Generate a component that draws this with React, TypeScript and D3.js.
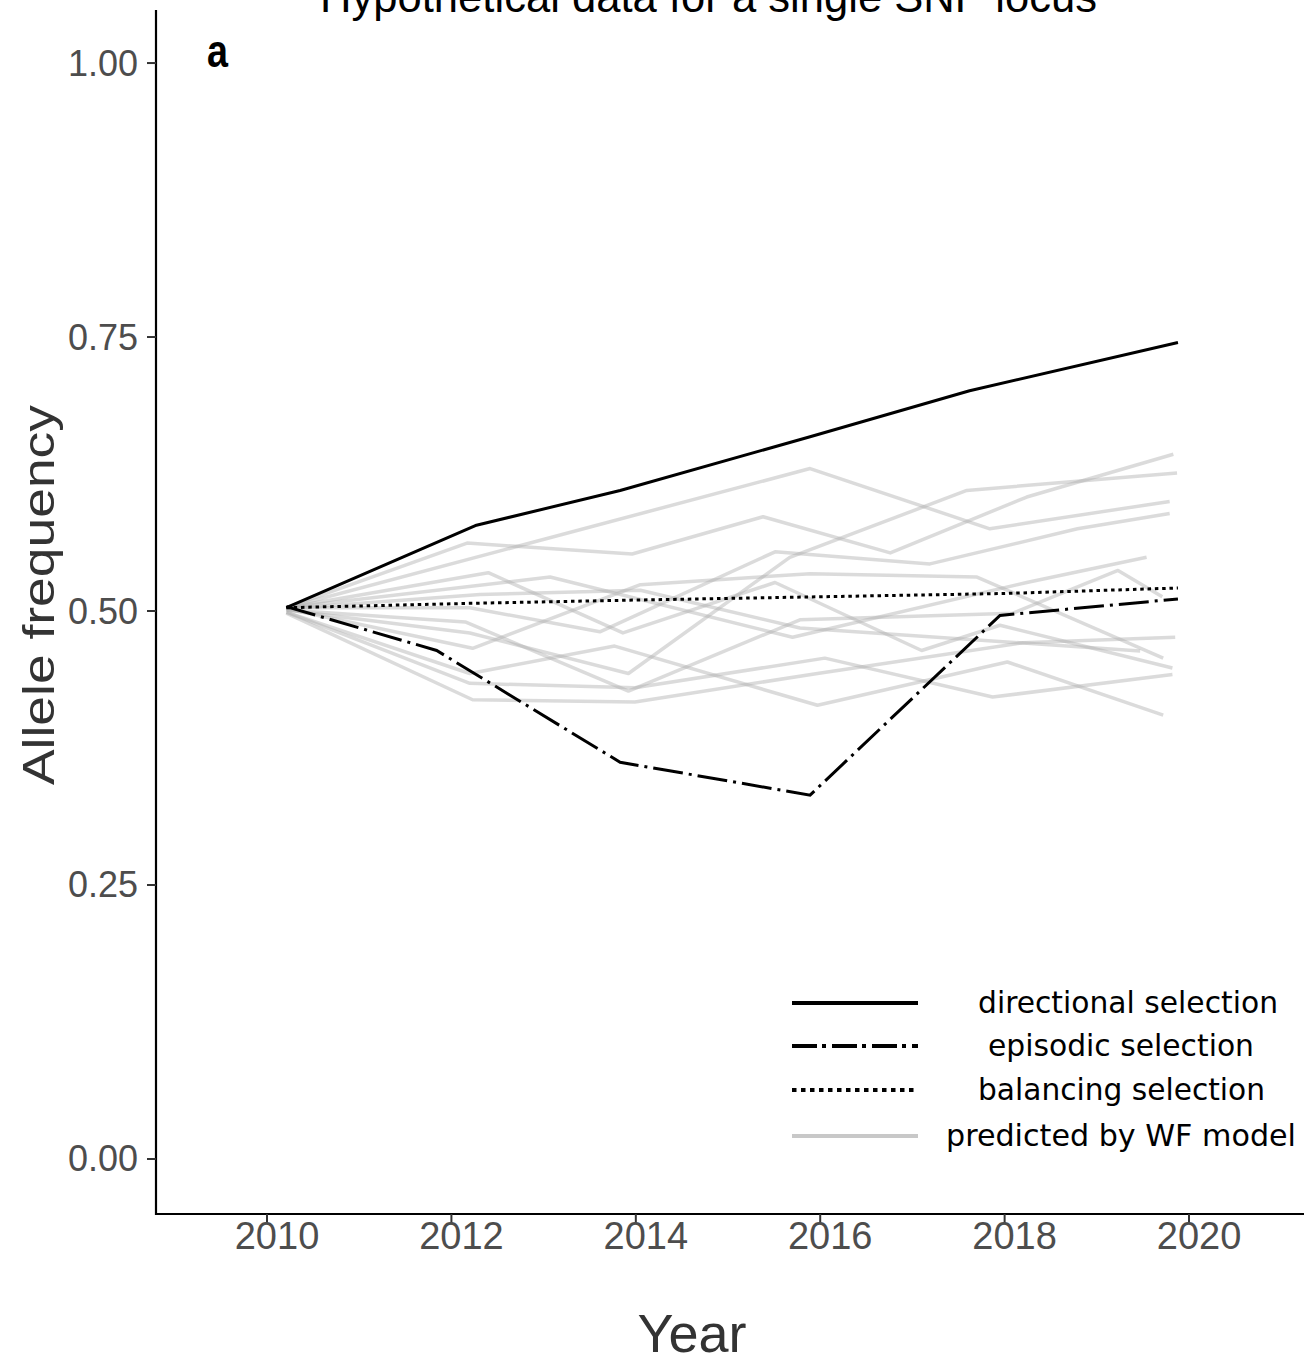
import React from "react";
import * as d3 from "d3";

const W = 1304;
const H = 1362;

// Axis ticks
const xTicks = [2010, 2012, 2014, 2016, 2018, 2020];
const yTicks = [0, 0.25, 0.5, 0.75, 1];

// Observed selection scenarios (year, allele frequency)
const directionalYears = [2010.21, 2012.26, 2013.83, 2015.89, 2017.62, 2019.88];
const directionalFreq = [0.503, 0.578, 0.61, 0.659, 0.701, 0.745];

const episodicYears = [2010.21, 2011.84, 2013.83, 2015.89, 2017.95, 2019.88];
const episodicFreq = [0.504, 0.464, 0.362, 0.332, 0.496, 0.511];

const balancingYears = [2010.21, 2012.2, 2014.0, 2016.0, 2018.0, 2019.88];
const balancingFreq = [0.503, 0.507, 0.51, 0.513, 0.516, 0.521];

// Wright-Fisher drift replicates
const wfYears = [
  [2010.21, 2015.89, 2017.84, 2019.79],
  [2010.21, 2012.17, 2013.96, 2015.38, 2016.76, 2018.24, 2019.83],
  [2010.21, 2012.2, 2013.92, 2015.67, 2017.59, 2019.87],
  [2010.21, 2012.4, 2013.86, 2015.51, 2017.1, 2017.95, 2019.82],
  [2010.21, 2013.07, 2015.7, 2018.24, 2019.54],
  [2010.21, 2012.2, 2013.61, 2015.51, 2017.19, 2018.79, 2019.79],
  [2010.21, 2012.23, 2014.05, 2015.89, 2017.7, 2019.72],
  [2010.21, 2012.2, 2013.77, 2015.97, 2018.03, 2019.72],
  [2010.21, 2012.2, 2013.99, 2016.05, 2017.87, 2019.82],
  [2010.21, 2012.23, 2013.99, 2015.97, 2018.2, 2019.85],
  [2010.21, 2012.15, 2013.92, 2015.78, 2018.09, 2019.23, 2019.71],
  [2010.21, 2012.31, 2014.05, 2015.78, 2019.47],
];
const wfFreq = [
  [0.503, 0.63, 0.575, 0.6],
  [0.503, 0.562, 0.552, 0.586, 0.553, 0.604, 0.643],
  [0.501, 0.48, 0.443, 0.549, 0.61, 0.626],
  [0.503, 0.535, 0.48, 0.526, 0.464, 0.487, 0.448],
  [0.503, 0.531, 0.476, 0.526, 0.549],
  [0.503, 0.503, 0.481, 0.554, 0.543, 0.575, 0.589],
  [0.502, 0.466, 0.524, 0.534, 0.531, 0.457],
  [0.499, 0.443, 0.468, 0.414, 0.4535, 0.405],
  [0.499, 0.434, 0.43, 0.457, 0.4215, 0.442],
  [0.498, 0.419, 0.417, 0.443, 0.471, 0.476],
  [0.501, 0.49, 0.427, 0.492, 0.498, 0.537, 0.513],
  [0.502, 0.515, 0.519, 0.4845, 0.4635],
];

const legendLabels = [
  "directional selection",
  "episodic selection",
  "balancing selection",
  "predicted by WF model",
];

const zip = (xs: number[], ys: number[]): [number, number][] =>
  xs.map((v, i) => [v, ys[i]]);

export default function App() {
  const left = 156;
  const bottom = 1214;
  const top = 10;

  const x = d3.scaleLinear().domain([2008.796, 2021.247]).range([left, W]);
  const y = d3.scaleLinear().domain([-0.0502, 1.0484]).range([bottom, top]);
  const line = d3
    .line<[number, number]>()
    .x((d) => x(d[0]))
    .y((d) => y(d[1]));

  const tickFont = "'Liberation Sans', Arial, Helvetica, sans-serif";
  const legendFont = "'DejaVu Sans', Verdana, sans-serif";

  const legendRows = [1003, 1046, 1090, 1136];
  const legendX0 = 792;
  const legendX1 = 918;
  const legendTextX = [978, 988, 978, 946];
  const legendTextLen = [300, 266, 287, 350];
  const legendStyles = [
    { stroke: "#000", dash: undefined as string | undefined, width: 4 },
    { stroke: "#000", dash: "25 5 4 6", width: 4 },
    { stroke: "#000", dash: "4.5 4.5", width: 4 },
    { stroke: "#c8c8c8", dash: undefined as string | undefined, width: 4 },
  ];

  return (
    <svg
      width={W}
      height={H}
      viewBox={`0 0 ${W} ${H}`}
      style={{ position: "absolute", left: 0, top: 0, background: "#fff" }}
    >
      {/* title, partly above the top edge */}
      <text
        x={320}
        y={12}
        fontFamily={tickFont}
        fontSize={44}
        fill="#000"
        textLength={777}
        lengthAdjust="spacingAndGlyphs"
      >
        Hypothetical data for a single SNP locus
      </text>

      {/* panel tag */}
      <text
        x={207}
        y={67}
        fontFamily={tickFont}
        fontWeight="bold"
        fontSize={46}
        fill="#000"
        textLength={21}
        lengthAdjust="spacingAndGlyphs"
      >
        a
      </text>

      {/* drift replicates */}
      <g fill="none" stroke="#b0b0b0" strokeOpacity={0.45} strokeWidth={3.5} strokeLinejoin="round">
        {wfYears.map((ys, i) => (
          <path key={i} d={line(zip(ys, wfFreq[i])) || ""} />
        ))}
      </g>

      {/* selection scenarios */}
      <g fill="none" stroke="#000" strokeWidth={3}>
        <path d={line(zip(balancingYears, balancingFreq)) || ""} strokeDasharray="3.5 3.8" />
        <path d={line(zip(episodicYears, episodicFreq)) || ""} strokeDasharray="30 6 3 6" />
        <path d={line(zip(directionalYears, directionalFreq)) || ""} strokeLinejoin="round" />
      </g>

      {/* axes */}
      <line x1={left} x2={left} y1={top} y2={bottom + 1} stroke="#000" strokeWidth={2.2} />
      <line x1={left - 1} x2={W} y1={bottom} y2={bottom} stroke="#000" strokeWidth={2.2} />

      {yTicks.map((t) => (
        <g key={t}>
          <line x1={left - 9} x2={left} y1={y(t)} y2={y(t)} stroke="#333" strokeWidth={2} />
          <text
            x={138}
            y={y(t) + 12.5}
            textAnchor="end"
            fontFamily={tickFont}
            fontSize={36}
            fill="#4d4d4d"
          >
            {d3.format(".2f")(t)}
          </text>
        </g>
      ))}

      {xTicks.map((t) => (
        <g key={t}>
          <line x1={x(t)} x2={x(t)} y1={bottom} y2={bottom + 9} stroke="#333" strokeWidth={2} />
          <text
            x={x(t) + 10}
            y={1249}
            textAnchor="middle"
            fontFamily={tickFont}
            fontSize={38}
            fill="#4d4d4d"
          >
            {t}
          </text>
        </g>
      ))}

      {/* axis titles */}
      <text
        transform="translate(54,595) rotate(-90)"
        textAnchor="middle"
        fontFamily={tickFont}
        fontSize={44}
        fill="#333"
        textLength={380}
        lengthAdjust="spacingAndGlyphs"
      >
        Allele frequency
      </text>
      <text
        x={692}
        y={1352}
        textAnchor="middle"
        fontFamily={tickFont}
        fontSize={54}
        fill="#333"
      >
        Year
      </text>

      {/* legend */}
      {legendLabels.map((lab, i) => (
        <g key={lab}>
          <line
            x1={legendX0}
            x2={legendX1}
            y1={legendRows[i]}
            y2={legendRows[i]}
            stroke={legendStyles[i].stroke}
            strokeWidth={legendStyles[i].width}
            strokeDasharray={legendStyles[i].dash}
          />
          <text
            x={legendTextX[i]}
            y={legendRows[i] + 10}
            fontFamily={legendFont}
            fontSize={29.5}
            fill="#000"
            textLength={legendTextLen[i]}
            lengthAdjust="spacingAndGlyphs"
          >
            {lab}
          </text>
        </g>
      ))}
    </svg>
  );
}
